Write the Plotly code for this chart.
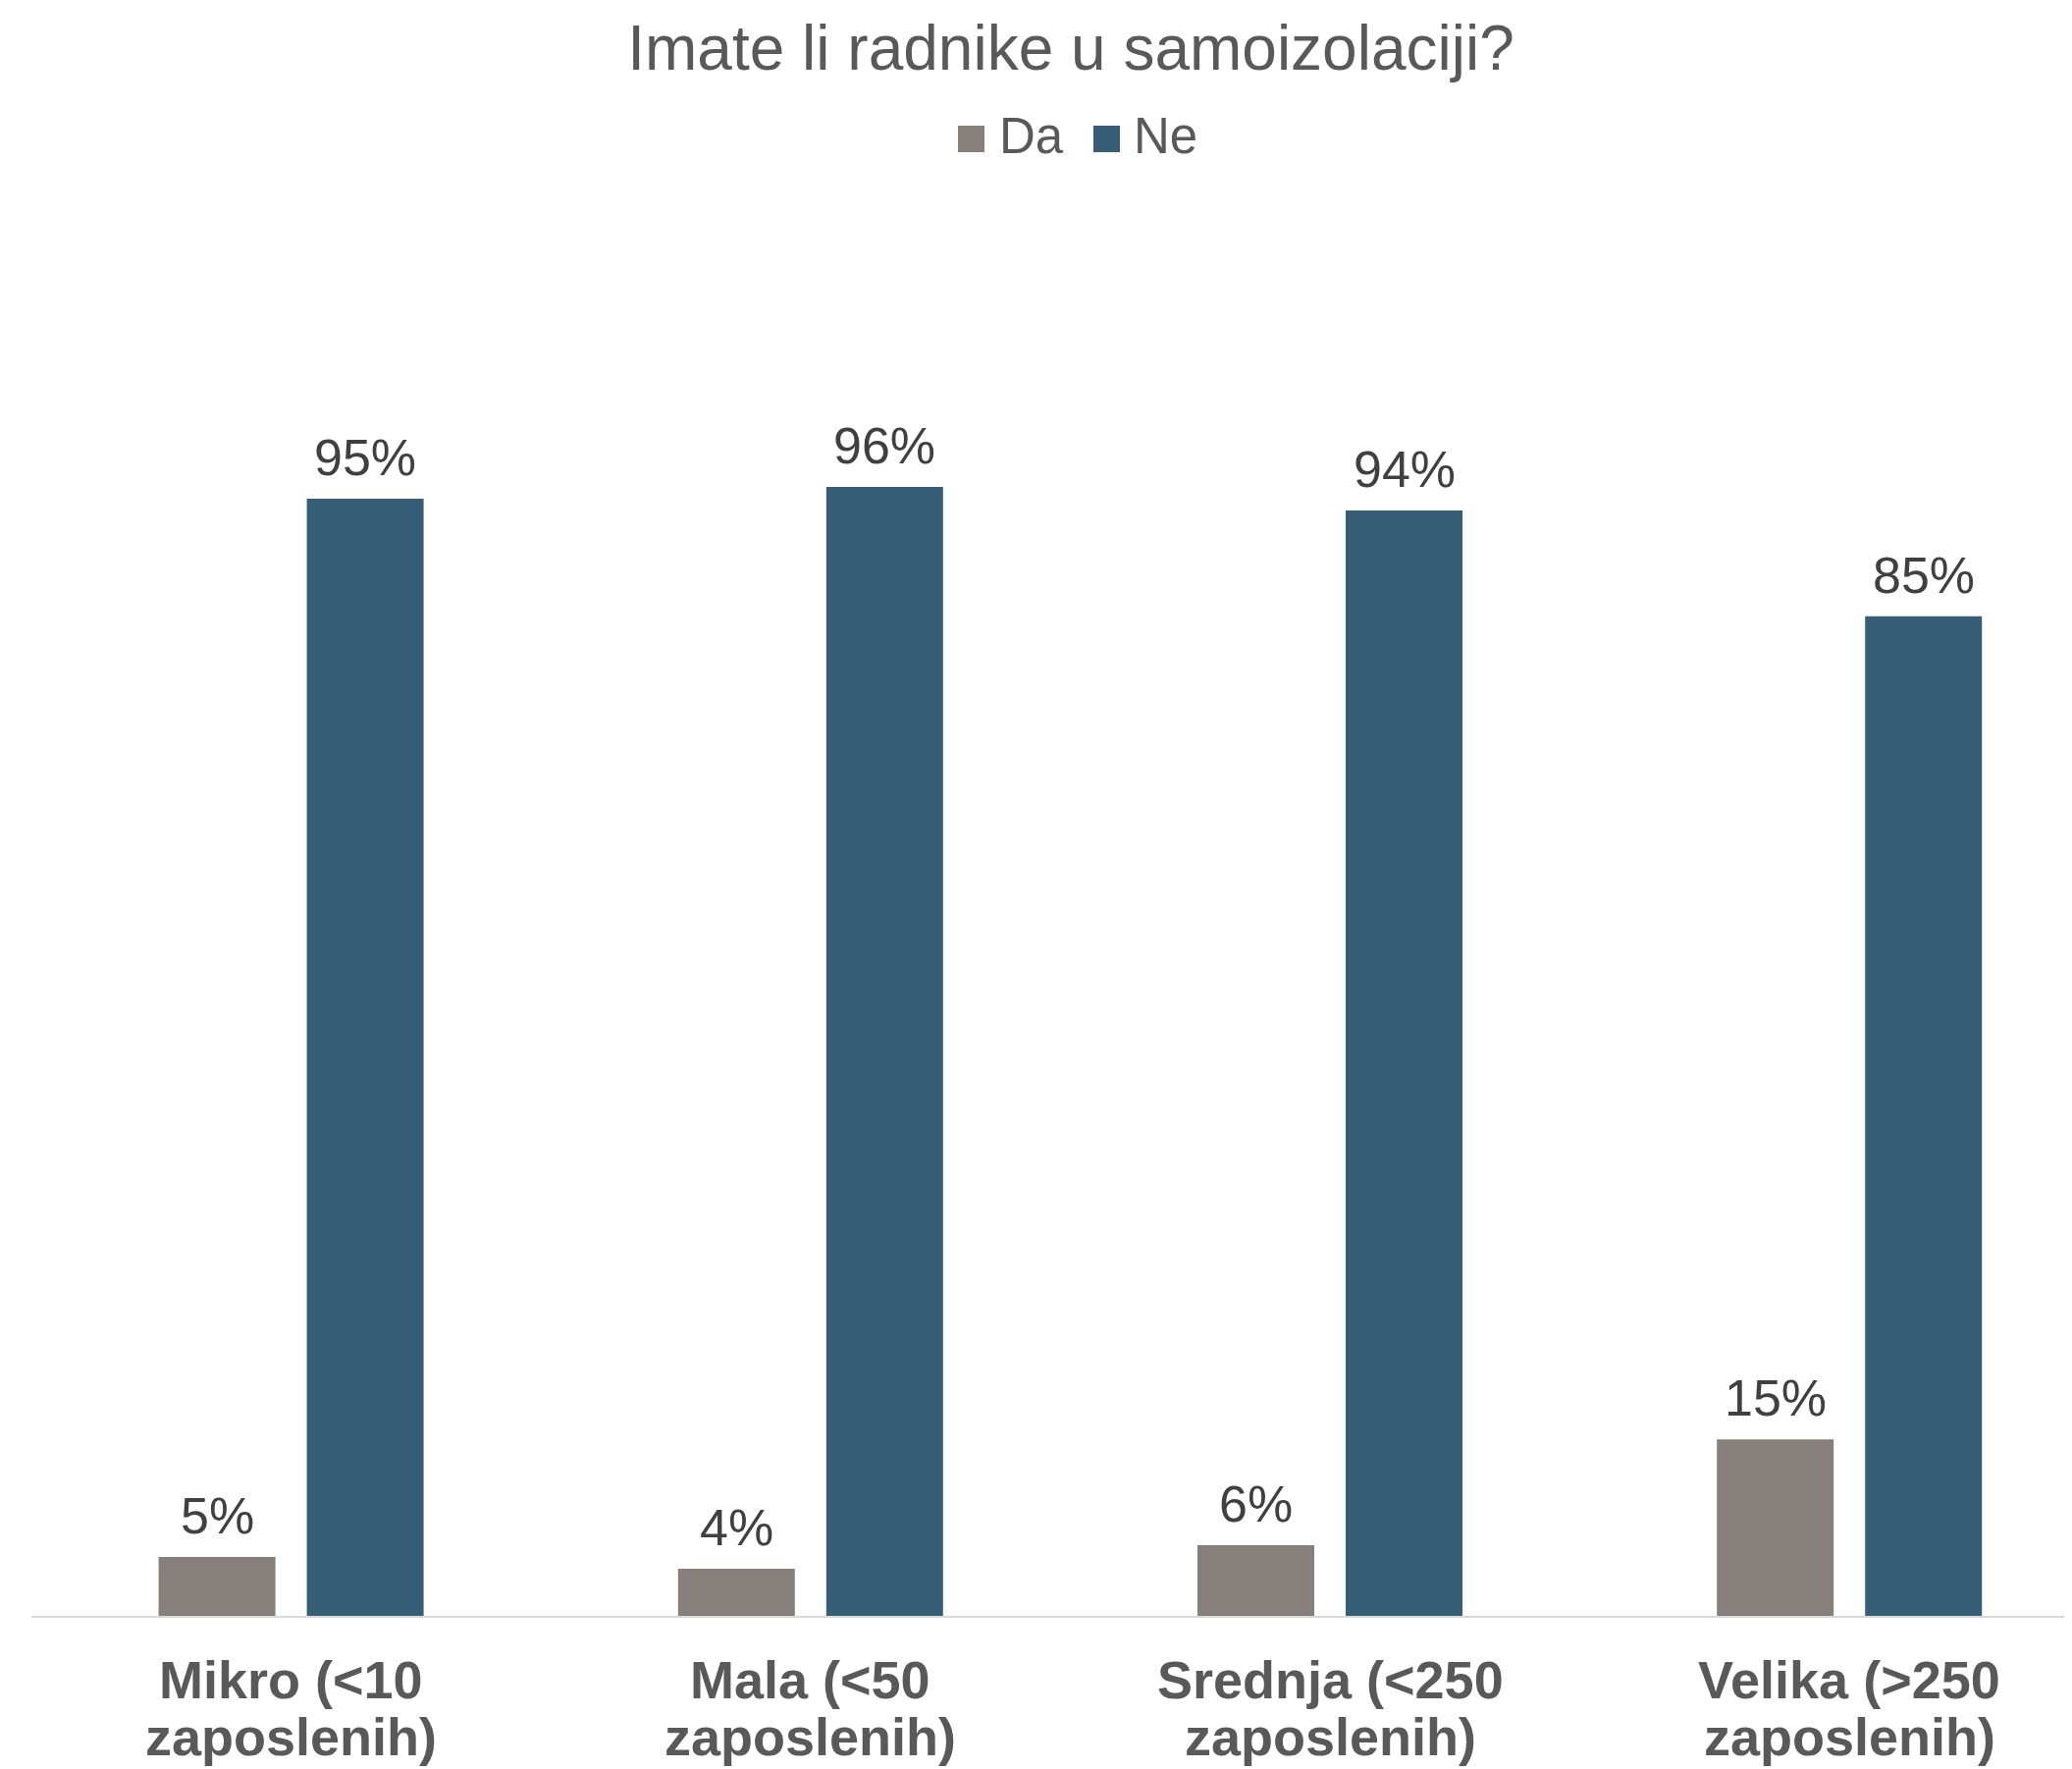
import plotly.graph_objects as go

categories = ["Mikro (<10 zaposlenih)", "Mala (<50 zaposlenih)",
              "Srednja (<250 zaposlenih)", "Velika (>250 zaposlenih)"]
series_names = ["Da", "Ne"]
da_values = [5, 4, 6, 15]
ne_values = [95, 96, 94, 85]
title_text = "Imate li radnike u samoizolaciji?"

colors = ["#877F7B", "#375E77"]
FONT = "Arial, Liberation Sans, sans-serif"

W, H = 2111, 1802
OFF = 8  # page body margin
# target positions (screenshot pixels) converted to figure pixels
left_px, right_px = 32 - OFF, W
top_px, bottom_px = 448 - OFF, 1646 - OFF
plot_w = right_px - left_px
plot_h = bottom_px - top_px
cat_w = 529.2
half_slot = 75.5  # px between group centre and bar centre

def px_x(px):
    return (px - OFF - left_px) / plot_w

def px_y(py):
    return (bottom_px - (py - OFF)) / plot_h

fig = go.Figure()
annotations = []
shapes = []
for si, (name, vals, col) in enumerate(zip(series_names, [da_values, ne_values], colors)):
    fig.add_trace(go.Bar(
        x=categories, y=vals, name=name,
        marker=dict(color=col, line=dict(width=0)),
        showlegend=False,
    ))
    for cat, v in zip(categories, vals):
        annotations.append(dict(
            x=cat, y=v, xref="x", yref="y", text=f"{v}%", showarrow=False,
            xanchor="center", yanchor="bottom",
            xshift=(-half_slot if si == 0 else half_slot), yshift=11,
            font=dict(family=FONT, size=52, color="#404040"),
        ))

# category labels (two lines each)
for cat in categories:
    l1, l2 = cat.rsplit(" ", 1)
    for txt, base in ((l1, 1730), (l2, 1788)):
        annotations.append(dict(
            x=cat, xref="x", y=px_y(base - 19), yref="paper",
            text=f"<b>{txt}</b>", showarrow=False, xanchor="center", yanchor="middle",
            font=dict(family=FONT, size=54, color="#595959"),
        ))

# legend (manual, to match square size)
leg_sq = [(976, 1003), (1114, 1141)]
leg_tx = [1016, 1153]
for name, col, (x0, x1), tx in zip(series_names, colors, leg_sq, leg_tx):
    shapes.append(dict(type="rect", xref="paper", yref="paper",
                       x0=px_x(x0), x1=px_x(x1), y0=px_y(155), y1=px_y(128),
                       fillcolor=col, line=dict(width=0)))
    annotations.append(dict(
        x=px_x(tx), xref="paper", y=px_y(139), yref="paper",
        text=name, showarrow=False, xanchor="left", yanchor="middle",
        font=dict(family=FONT, size=51, color="#595959"),
    ))

fig.update_layout(
    width=W, height=H,
    paper_bgcolor="white", plot_bgcolor="white",
    margin=dict(l=left_px, r=0, t=top_px, b=H - bottom_px, pad=0),
    barmode="group", bargap=0.4293, bargroupgap=0.212,
    title=dict(text=title_text, x=(1091 - OFF) / W, xref="container", xanchor="center",
               y=1 - (48.6 - OFF) / H, yref="container", yanchor="middle",
               font=dict(family=FONT, size=64, color="#595959")),
    xaxis=dict(range=[-0.5, -0.5 + plot_w / cat_w], showticklabels=False,
               showline=True, linecolor="#D9D9D9", linewidth=2, ticks="",
               showgrid=False, zeroline=False, fixedrange=True),
    yaxis=dict(range=[0, 100], visible=False, showgrid=False, zeroline=False),
    annotations=annotations, shapes=shapes,
    showlegend=False,
)

fig.write_html("out.html")
